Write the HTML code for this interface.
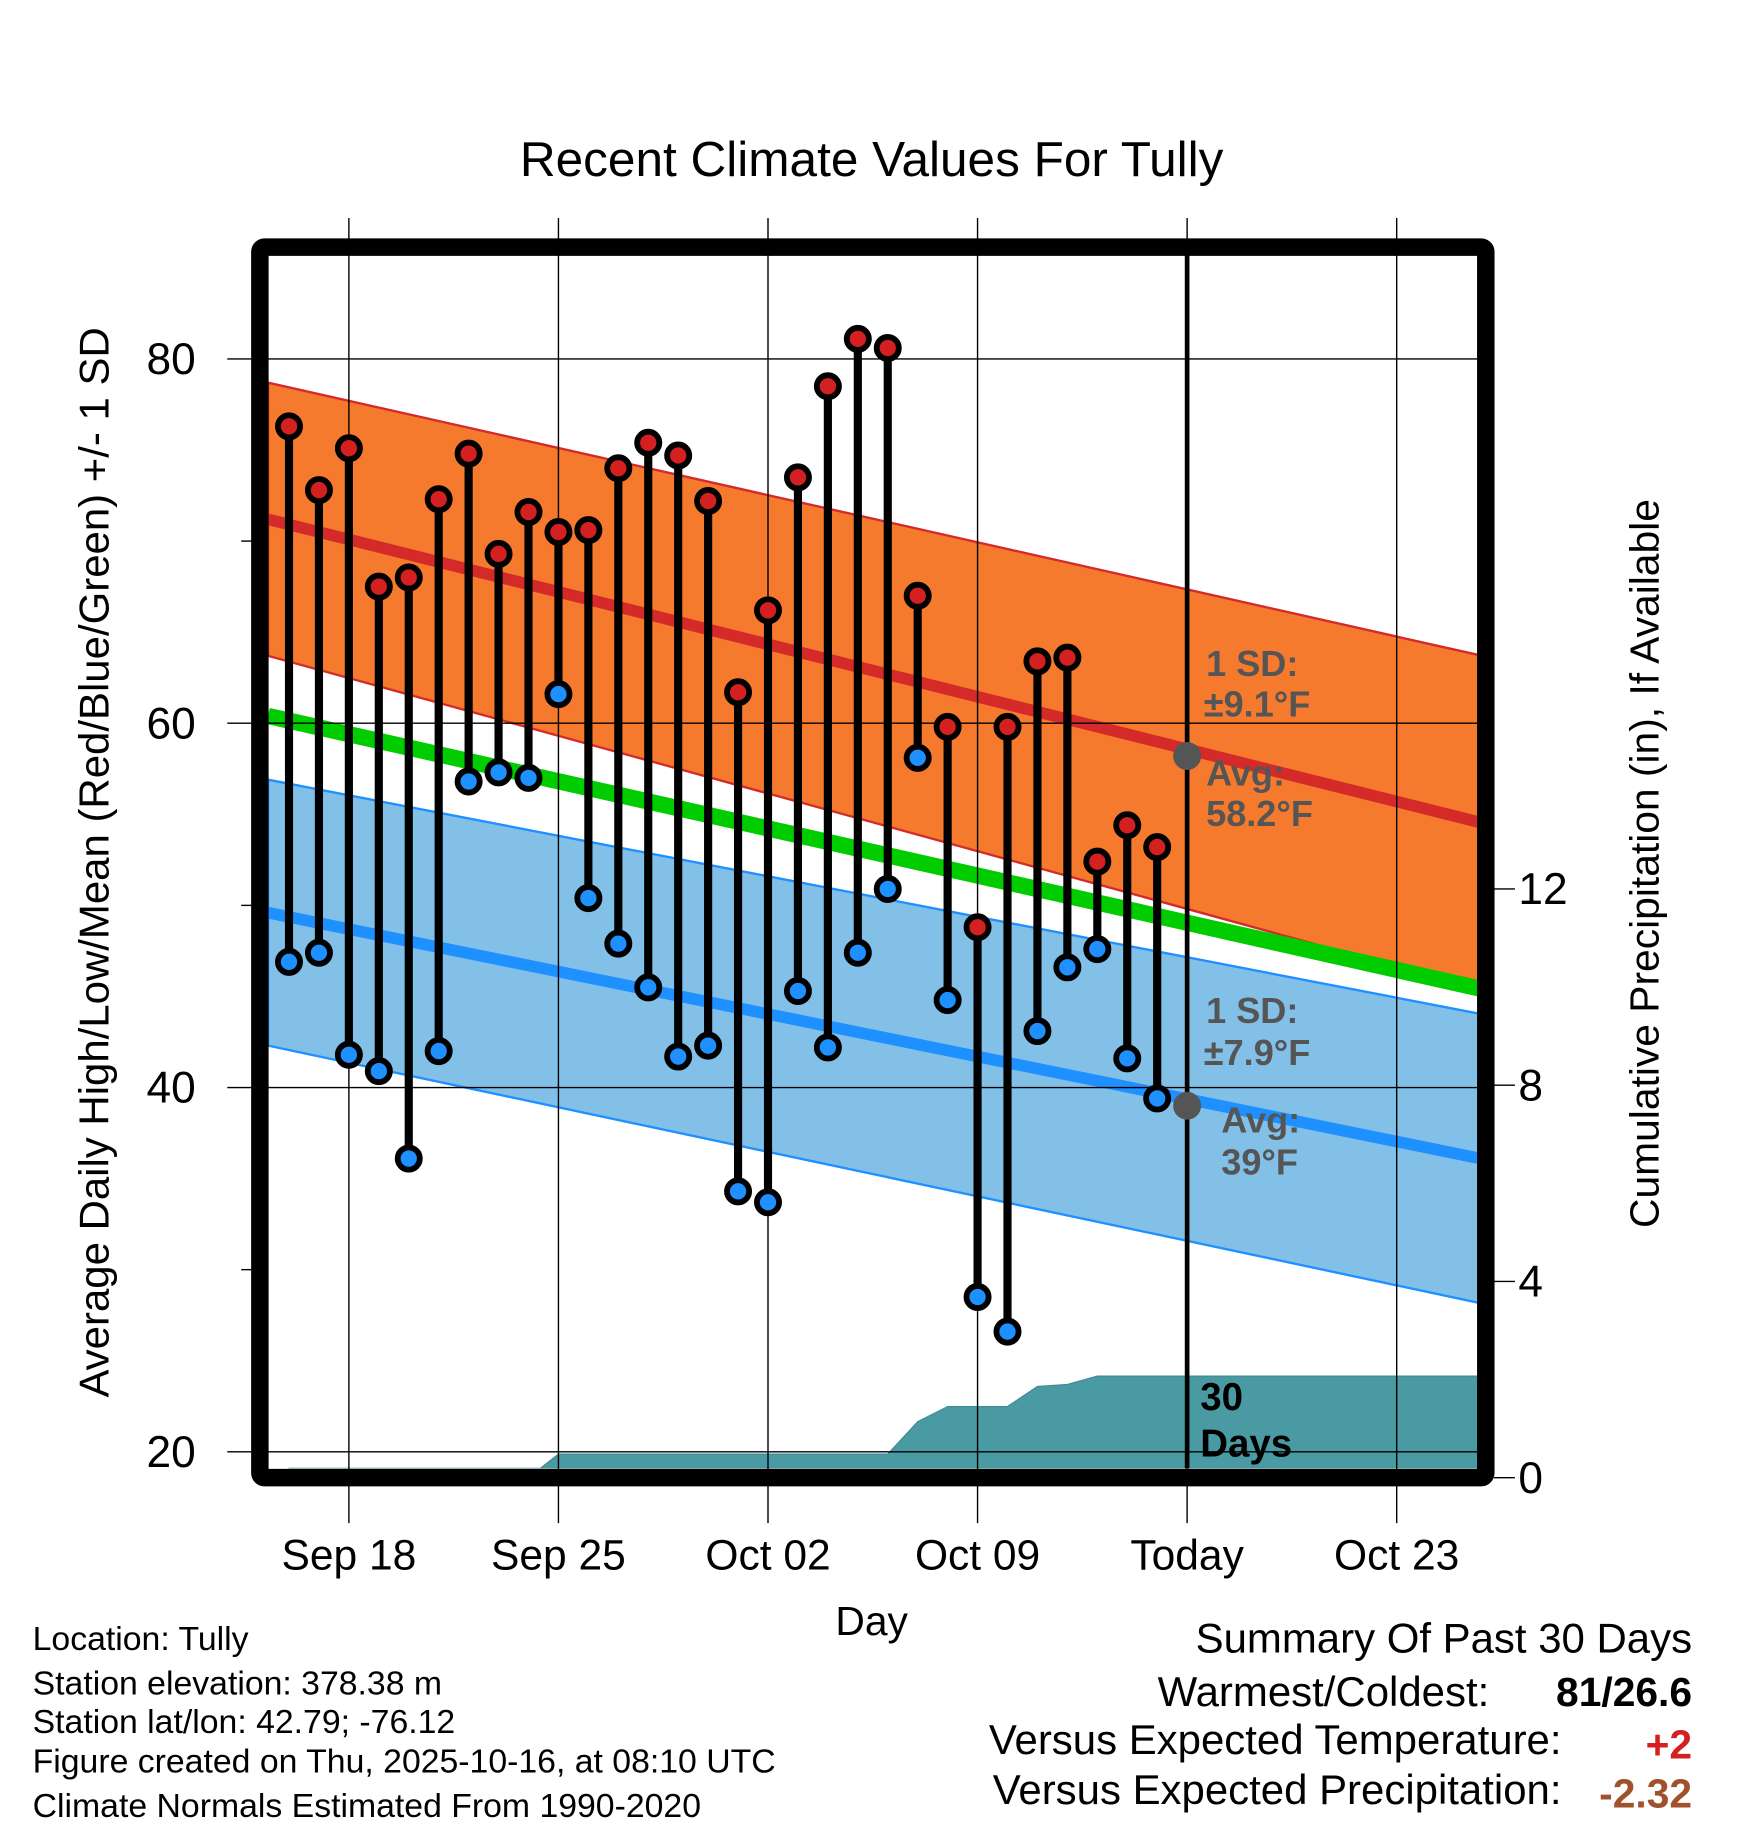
<!DOCTYPE html>
<html><head><meta charset="utf-8"><style>html,body{margin:0;padding:0;background:#fff}svg{display:block}text{font-family:"Liberation Sans",sans-serif}</style></head>
<body>
<svg id="chart" width="1748" height="1828" viewBox="0 0 1500 1568.6" xmlns="http://www.w3.org/2000/svg"></svg>
<script>
const days = ["Sep 16","Sep 17","Sep 18","Sep 19","Sep 20","Sep 21","Sep 22","Sep 23","Sep 24","Sep 25","Sep 26","Sep 27","Sep 28","Sep 29","Sep 30","Oct 01","Oct 02","Oct 03","Oct 04","Oct 05","Oct 06","Oct 07","Oct 08","Oct 09","Oct 10","Oct 11","Oct 12","Oct 13","Oct 14","Oct 15"];
const highs = [76.3,72.8,75.1,67.5,68.0,72.3,74.8,69.3,71.6,70.5,70.6,74.0,75.4,74.7,72.2,61.7,66.2,73.5,78.5,81.1,80.6,67.0,59.8,48.8,59.8,63.4,63.6,52.4,54.4,53.2];
const lows = [46.9,47.4,41.8,40.9,36.1,42.0,56.8,57.3,57.0,61.6,50.4,47.9,45.5,41.7,42.3,34.3,33.7,45.3,42.2,47.4,50.9,58.1,44.8,28.5,26.6,43.1,46.6,47.6,41.6,39.4];
const precip = [0,0,0,0,0,0,0,0,0,0.48,0.48,0.48,0.48,0.48,0.48,0.48,0.48,0.48,0.48,0.48,0.48,1.14,1.45,1.45,1.45,1.86,1.9,2.07,2.07,2.07];
const normalDays = [-0.7, 40.4];
const normHigh = [71.2, 54.3];
const normHighSD = [7.5, 9.2];
const normMean = [60.4, 45.2];
const normLow = [49.6, 35.9];
const normLowSD = [7.3, 7.95];
const xTickLabels = ["Sep 18","Sep 25","Oct 02","Oct 09","Today","Oct 23"];
const xTickDays = [2, 9, 16, 23, 30, 37];
const yTicks = [20, 40, 60, 80];
const yMinor = [30, 50, 70];
const pTicks = [0, 4, 8, 12];
const todayIdx = 30, todayHigh = 58.2, todayLow = 39, sdHigh = "9.1", sdLow = "7.9";

const NS = "http://www.w3.org/2000/svg";
const svg = document.getElementById('chart');
const L = 230, R = 1268, T = 219, B = 1260;
const X = d => 248 + d * 25.69;
const Y = v => 308 + (80 - v) * 15.63;
const P = p => 1268 - p * 42.1;
function mk(tag, attrs, parent) {
  const e = document.createElementNS(NS, tag);
  for (const k in attrs) e.setAttribute(k, attrs[k]);
  (parent || svg).appendChild(e);
  return e;
}
function txt(s, attrs, name, parent) {
  const e = mk('text', attrs, parent);
  e.textContent = s;
  
  
  return e;
}
const clip = mk('clipPath', {id: 'pc'});
mk('rect', {x: L, y: T, width: R - L, height: B - T}, clip);
const g = mk('g', {'clip-path': 'url(#pc)'});

function band(a, b, fill, stroke, name) {
  const x0 = X(normalDays[0]), x1 = X(normalDays[1]);
  const e = mk('polygon', {points: `${x0},${Y(a[0])} ${x1},${Y(a[1])} ${x1},${Y(b[1])} ${x0},${Y(b[0])}`, fill: fill, stroke: stroke, 'stroke-width': 2}, g);
  
  
}
function line(a, color, w, name) {
  const e = mk('line', {x1: X(normalDays[0]), y1: Y(a[0]), x2: X(normalDays[1]), y2: Y(a[1]), stroke: color, 'stroke-width': w}, g);
  
  
}
const hiUp = normHigh.map((v, i) => v + normHighSD[i]), hiLo = normHigh.map((v, i) => v - normHighSD[i]);
const loUp = normLow.map((v, i) => v + normLowSD[i]), loLo = normLow.map((v, i) => v - normLowSD[i]);
band(loUp, loLo, '#82c0e8', '#1e90ff', 'low-sd-band');
band(hiUp, hiLo, '#f57a2e', '#d42a2a', 'high-sd-band');
line(normMean, '#00cc00', 14, 'mean-normal-line');
line(normHigh, '#d42a2a', 10, 'high-normal-line');
line(normLow, '#1e90ff', 10, 'low-normal-line');

let pts = `${X(0)},${B} `;
precip.forEach((p, i) => { pts += `${X(i)},${P(p)} `; });
pts += `${R},${P(precip[precip.length - 1])} ${R},${B}`;
const pa = mk('polygon', {points: pts, fill: '#4a9aa3', stroke: '#3f8a93', 'stroke-width': 1}, g);



xTickDays.forEach((d, i) => {
  const e = mk('line', {x1: X(d), y1: 187, x2: X(d), y2: 1307, stroke: '#000', 'stroke-width': 1.2});
  
  
  txt(xTickLabels[i], {x: X(d), y: 1347, 'font-size': 36.5, 'text-anchor': 'middle'}, 'x-tick-label');
});
yTicks.forEach(v => {
  const e = mk('line', {x1: 195, y1: Y(v), x2: 1275, y2: Y(v), stroke: '#000', 'stroke-width': 1.2});
  
  
  txt(String(v), {x: 168, y: Y(v) + 13, 'font-size': 38, 'text-anchor': 'end'}, 'y-tick-label');
});
yMinor.forEach(v => {
  const e = mk('line', {x1: 207, y1: Y(v), x2: 216, y2: Y(v), stroke: '#000', 'stroke-width': 1.2});
  
  
});
pTicks.forEach(v => {
  const e = mk('line', {x1: 1282, y1: P(v), x2: 1300, y2: P(v), stroke: '#000', 'stroke-width': 1.2});
  
  
  txt(String(v), {x: 1303, y: P(v) + 13, 'font-size': 38}, 'precip-tick-label');
});

const tl = mk('line', {x1: X(todayIdx), y1: T, x2: X(todayIdx), y2: B, stroke: '#000', 'stroke-width': 4});



highs.forEach((h, i) => {
  const l = mk('line', {x1: X(i), y1: Y(h), x2: X(i), y2: Y(lows[i]), stroke: '#000', 'stroke-width': 7});
  
  
  const c1 = mk('circle', {cx: X(i), cy: Y(h), r: 9.5, fill: '#d42020', stroke: '#000', 'stroke-width': 5});
  
  
  const c2 = mk('circle', {cx: X(i), cy: Y(lows[i]), r: 9.5, fill: '#1e90ff', stroke: '#000', 'stroke-width': 5});
  
  
});
[todayHigh, todayLow].forEach(v => {
  const c = mk('circle', {cx: X(todayIdx), cy: Y(v), r: 12, fill: '#555'});
  
  
});

const ann = {'font-size': 31, 'font-weight': 'bold', fill: '#555'};
txt('1 SD:', Object.assign({x: 1035, y: 580}, ann), 'high-sd-label');
txt('±' + sdHigh + '°F', Object.assign({x: 1033, y: 615}, ann), 'high-sd-value');
txt('Avg:', Object.assign({x: 1035, y: 674}, ann), 'high-avg-label');
txt(todayHigh + '°F', Object.assign({x: 1035, y: 709}, ann), 'high-avg-value');
txt('1 SD:', Object.assign({x: 1035, y: 878}, ann), 'low-sd-label');
txt('±' + sdLow + '°F', Object.assign({x: 1033, y: 914}, ann), 'low-sd-value');
txt('Avg:', Object.assign({x: 1048, y: 972}, ann), 'low-avg-label');
txt(todayLow + '°F', Object.assign({x: 1048, y: 1008}, ann), 'low-avg-value');
txt('30', {x: 1030, y: 1210, 'font-size': 33, 'font-weight': 'bold'}, 'days-label-30');
txt('Days', {x: 1030, y: 1250, 'font-size': 33, 'font-weight': 'bold'}, 'days-label');

const fr = mk('rect', {x: 223, y: 212, width: 1052, height: 1056, fill: 'none', stroke: '#000', 'stroke-width': 15, rx: 4});



txt('Recent Climate Values For Tully', {x: 748, y: 151, 'font-size': 42.5, 'text-anchor': 'middle'}, 'chart-title');
txt('Average Daily High/Low/Mean (Red/Blue/Green) +/- 1 SD', {x: 0, y: 0, 'font-size': 36, 'text-anchor': 'middle', transform: 'translate(93,740) rotate(-90)'}, 'y-axis-title');
txt('Cumulative Precipitation (in), If Available', {x: 0, y: 0, 'font-size': 35, 'text-anchor': 'middle', transform: 'translate(1423,741) rotate(-90)'}, 'y2-axis-title');
txt('Day', {x: 748, y: 1403, 'font-size': 35, 'text-anchor': 'middle'}, 'x-axis-title');

const info = ['Location: Tully', 'Station elevation: 378.38 m', 'Station lat/lon: 42.79; -76.12', 'Figure created on Thu, 2025-10-16, at 08:10 UTC', 'Climate Normals Estimated From 1990-2020'];
const infoY = [1416, 1454, 1487, 1521, 1559];
info.forEach((s, i) => txt(s, {x: 28, y: infoY[i], 'font-size': 29}, 'station-info-line'));

txt('Summary Of Past 30 Days', {x: 1452, y: 1418, 'font-size': 36, 'text-anchor': 'end'}, 'summary-title');
txt('Warmest/Coldest:', {x: 1278, y: 1464, 'font-size': 36, 'text-anchor': 'end'}, 'warmest-coldest-label');
txt('81/26.6', {x: 1452, y: 1464, 'font-size': 35, 'font-weight': 'bold', 'text-anchor': 'end'}, 'warmest-coldest-value');
txt('Versus Expected Temperature:', {x: 1340, y: 1505, 'font-size': 36, 'text-anchor': 'end'}, 'temp-anomaly-label');
txt('+2', {x: 1452, y: 1509, 'font-size': 35, 'font-weight': 'bold', fill: '#d42020', 'text-anchor': 'end'}, 'temp-anomaly-value');
txt('Versus Expected Precipitation:', {x: 1340, y: 1548, 'font-size': 36, 'text-anchor': 'end'}, 'precip-anomaly-label');
txt('-2.32', {x: 1452, y: 1551, 'font-size': 35, 'font-weight': 'bold', fill: '#a0522d', 'text-anchor': 'end'}, 'precip-anomaly-value');
</script>
</body></html>
